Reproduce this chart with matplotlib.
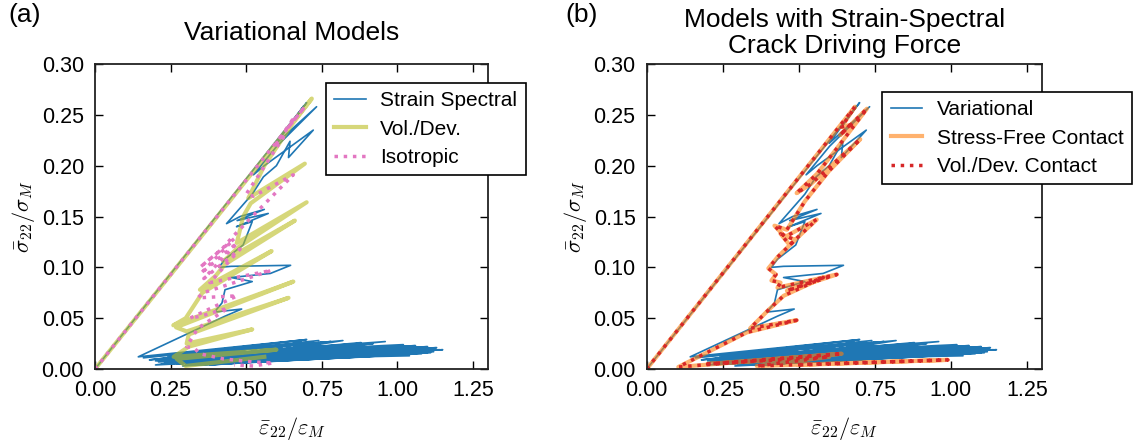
import matplotlib
matplotlib.use('Agg')
import matplotlib.pyplot as plt

plt.rcParams['font.family'] = ['Liberation Sans', 'DejaVu Sans']
plt.rcParams['mathtext.fontset'] = 'cm'

# strain-spectral (variational) model: shared by both panels
# softening branch, then the low-stress cycling band
ss_x = [0.000, 0.700, 0.640, 0.691, 0.600, 0.733, 0.601, 0.524, 0.560, 0.722,
        0.640, 0.645, 0.600, 0.557, 0.520, 0.435, 0.480, 0.560, 0.470, 0.573,
        0.468, 0.520, 0.490, 0.430, 0.410, 0.450, 0.647, 0.580, 0.450, 0.520,
        0.430, 0.420, 0.395, 0.485, 0.430, 0.143,
        0.700, 0.160, 0.740, 0.180, 0.720, 0.200, 1.150, 0.220, 1.120, 0.240,
        1.100, 0.210, 1.080, 0.260, 1.130, 0.230, 1.050, 0.280, 1.100, 0.250,
        1.000, 0.300, 1.060, 0.270, 0.980, 0.320, 1.020, 0.290, 0.950, 0.340,
        1.090, 0.310, 0.920, 0.360, 1.110, 0.330, 0.900, 0.380, 1.070, 0.350,
        0.880, 0.400, 1.030, 0.300, 0.780, 0.260, 0.820, 0.420, 0.990, 0.340,
        0.760, 0.450, 1.140, 0.380, 0.650, 0.230, 1.010, 0.270, 0.940, 0.310,
        1.120, 0.250, 0.860, 0.290, 1.040, 0.200, 0.700, 0.330, 0.960, 0.270,
        1.080, 0.360, 0.800, 0.240, 1.000, 0.400, 0.740, 0.300, 1.100, 0.350,
        0.840, 0.440, 0.680]
ss_y = [0.000, 0.262, 0.238, 0.259, 0.222, 0.258, 0.219, 0.191, 0.200, 0.235,
        0.208, 0.224, 0.200, 0.189, 0.172, 0.143, 0.150, 0.157, 0.146, 0.153,
        0.140, 0.145, 0.122, 0.108, 0.100, 0.101, 0.102, 0.094, 0.090, 0.086,
        0.078, 0.065, 0.056, 0.059, 0.052, 0.012,
        0.029, 0.011, 0.028, 0.009, 0.026, 0.004, 0.019, 0.005, 0.018, 0.006,
        0.020, 0.007, 0.017, 0.008, 0.021, 0.009, 0.016, 0.010, 0.022, 0.011,
        0.015, 0.012, 0.023, 0.013, 0.014, 0.014, 0.024, 0.003, 0.013, 0.004,
        0.019, 0.006, 0.025, 0.008, 0.016, 0.010, 0.012, 0.005, 0.021, 0.012,
        0.026, 0.007, 0.018, 0.015, 0.027, 0.013, 0.028, 0.009, 0.014, 0.016,
        0.026, 0.011, 0.019, 0.004, 0.010, 0.006, 0.021, 0.005, 0.019, 0.007,
        0.017, 0.009, 0.024, 0.011, 0.013, 0.008, 0.022, 0.009, 0.027, 0.012,
        0.015, 0.006, 0.020, 0.013, 0.018, 0.010, 0.025, 0.004, 0.016, 0.008,
        0.023, 0.008, 0.027]

# vol./dev. split: narrow loops stepping down
vd_x = [0.000, 0.717, 0.650, 0.560, 0.507, 0.694, 0.515, 0.490, 0.469, 0.700,
        0.475, 0.440, 0.424, 0.661, 0.430, 0.400, 0.347, 0.584, 0.355, 0.300,
        0.259, 0.656, 0.268, 0.303, 0.640, 0.310, 0.303, 0.520, 0.310, 0.260,
        0.600, 0.270, 0.300, 0.560]
vd_y = [0.000, 0.266, 0.240, 0.200, 0.168, 0.202, 0.163, 0.150, 0.124, 0.164,
        0.120, 0.110, 0.106, 0.146, 0.103, 0.092, 0.078, 0.116, 0.075, 0.050,
        0.043, 0.086, 0.041, 0.037, 0.070, 0.034, 0.025, 0.039, 0.022, 0.012,
        0.019, 0.010, 0.003, 0.012]

# isotropic model
iso_x = [0.000, 0.694, 0.640, 0.660, 0.600, 0.623, 0.540, 0.500, 0.524, 0.656,
         0.520, 0.455, 0.420, 0.347, 0.460, 0.350, 0.470, 0.360, 0.480, 0.380,
         0.584, 0.358, 0.340, 0.470, 0.314, 0.350, 0.440, 0.340, 0.303, 0.330,
         0.347, 0.424, 0.520, 0.590, 0.523, 0.460]
iso_y = [0.000, 0.258, 0.238, 0.248, 0.222, 0.228, 0.190, 0.172, 0.170, 0.191,
         0.150, 0.130, 0.118, 0.100, 0.128, 0.094, 0.124, 0.089, 0.118, 0.085,
         0.097, 0.075, 0.070, 0.072, 0.050, 0.052, 0.060, 0.040, 0.022, 0.020,
         0.015, 0.010, 0.007, 0.006, 0.003, 0.004]

# contact models (stress-free and vol./dev. contact coincide)
ct_x = [0.000, 0.685, 0.640, 0.668, 0.636, 0.724, 0.620, 0.560, 0.493, 0.540,
        0.702, 0.600, 0.520, 0.461, 0.420, 0.455, 0.559, 0.470, 0.440, 0.488,
        0.430, 0.400, 0.425, 0.410, 0.440, 0.430, 0.625, 0.461, 0.581, 0.450,
        0.400, 0.340, 0.493, 0.329, 0.104, 0.641, 0.200, 0.600, 0.362, 0.990,
        0.500]
ct_y = [0.000, 0.258, 0.238, 0.240, 0.230, 0.256, 0.215, 0.192, 0.173, 0.182,
        0.226, 0.195, 0.165, 0.137, 0.141, 0.130, 0.147, 0.122, 0.133, 0.127,
        0.110, 0.099, 0.093, 0.087, 0.085, 0.080, 0.093, 0.077, 0.090, 0.072,
        0.058, 0.040, 0.048, 0.036, 0.002, 0.015, 0.005, 0.012, 0.003, 0.009,
        0.004]

xticks = [0.0, 0.25, 0.5, 0.75, 1.0, 1.25]
yticks = [0.0, 0.05, 0.10, 0.15, 0.20, 0.25, 0.30]

fig = plt.figure(figsize=(11.41, 4.46), dpi=100)
ax1 = fig.add_axes([0.0833, 0.1726, 0.3444, 0.6839])
ax2 = fig.add_axes([0.5668, 0.1726, 0.3465, 0.6839])

ax1.plot(ss_x, ss_y, color='#1f77b4', lw=1.2, label='Strain Spectral')
ax1.plot(vd_x, vd_y, color='#bcbd22', alpha=0.6, lw=3.0, label='Vol./Dev.')
ax1.plot(iso_x, iso_y, color='#e377c2', lw=2.5, ls=':', label='Isotropic')

ax2.plot(ss_x, ss_y, color='#1f77b4', lw=1.2, label='Variational')
ax2.plot(ct_x, ct_y, color='#ff7f0e', alpha=0.6, lw=3, label='Stress-Free Contact')
ax2.plot(ct_x, ct_y, color='#d62728', lw=2.5, ls=':', label='Vol./Dev. Contact')

for ax in (ax1, ax2):
    ax.set_xlim(0, 1.3)
    ax.set_ylim(0, 0.30)
    ax.set_xticks(xticks)
    ax.set_yticks(yticks)
    ax.set_xticklabels([f'{t:.2f}' for t in xticks])
    ax.set_yticklabels([f'{t:.2f}' for t in yticks])
    ax.tick_params(direction='in', top=True, right=True, length=6, width=1,
                   pad=8, labelsize=15.5)
    for s in ax.spines.values():
        s.set_linewidth(1.3)
        s.set_color('#222222')
    ax.set_xlabel(r'$\bar{\varepsilon}_{22}/\varepsilon_M$', fontsize=16, labelpad=10)
    ax.set_ylabel(r'$\bar{\sigma}_{22}/\sigma_M$', fontsize=16, labelpad=3)

leg_kw = dict(loc='upper left', borderaxespad=0, fontsize=15, fancybox=False,
              edgecolor='black', framealpha=1, handlelength=1.5,
              handletextpad=0.7, labelspacing=0.45, borderpad=0.4)
l1 = ax1.legend(bbox_to_anchor=(0.588, 0.938), **leg_kw)
l2 = ax2.legend(bbox_to_anchor=(0.596, 0.908), **leg_kw)
for l in (l1, l2):
    l.get_frame().set_linewidth(1.2)

ax1.set_title('Variational Models', fontsize=19, pad=17)
ax2.set_title('Models with Strain-Spectral\nCrack Driving Force', fontsize=19,
              pad=8, linespacing=1.1)

fig.text(8 / 1141, 1 - 3 / 446, '(a)', fontsize=19, va='top')
fig.text(565 / 1141, 1 - 3 / 446, '(b)', fontsize=19, va='top')

fig.savefig('out.png', dpi=100)
